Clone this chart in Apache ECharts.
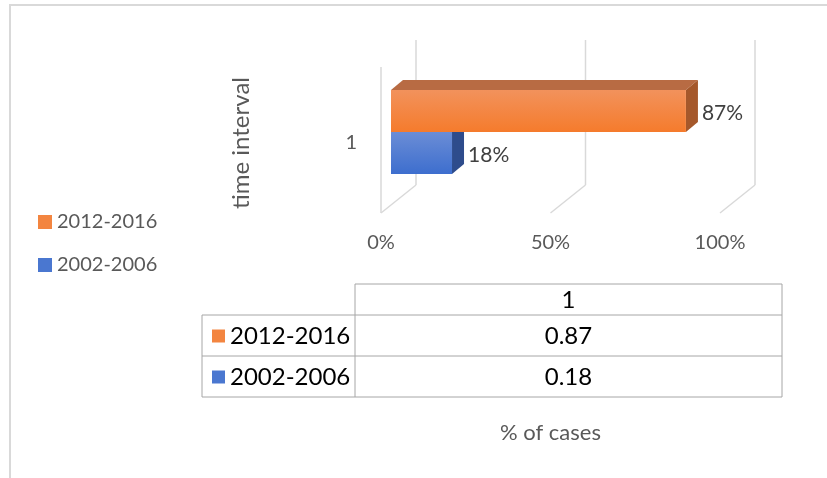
<!DOCTYPE html>
<html><head><meta charset="utf-8">
<script src="https://cdn.jsdelivr.net/npm/echarts@6/dist/echarts.min.js"></script>
<style>html,body{margin:0;padding:0;background:#fff}#c{width:827px;height:478px}</style>
</head><body><div id="c"></div>
<script>
// ---- data ----
const categories = ['1'];
const seriesNames = ['2012-2016', '2002-2006'];
const values2012 = [0.87];
const values2002 = [0.18];
const xTicks = [0, 0.5, 1];
const xTickLabels = ['0%', '50%', '100%'];
const tableHeader = ['1'];

const FONT = 'Lato';
const chart = echarts.init(document.getElementById('c'));

const DX = 12, DY = -10; // bar depth
function barRenderer(offTop, offBot, cFront1, cFront2, cTop, cSide) {
  return function (params, api) {
    const v = api.value(0), cat = api.value(1);
    const p0 = api.coord([0, cat]);
    const p1 = api.coord([v, cat]);
    const band = api.size([0, 1])[1];
    const x0 = p0[0] + 10, x1 = p1[0] + 10;
    const y0 = p0[1] + band * offTop, y1 = p0[1] + band * offBot;
    return {
      type: 'group',
      children: [
        { type: 'polygon', shape: { points: [[x0, y0], [x0 + DX, y0 + DY], [x1 + DX, y0 + DY], [x1, y0]] }, style: { fill: cTop } },
        { type: 'polygon', shape: { points: [[x1, y0], [x1 + DX, y0 + DY], [x1 + DX, y1 + DY], [x1, y1]] }, style: { fill: cSide } },
        { type: 'rect', shape: { x: x0, y: y0, width: x1 - x0, height: y1 - y0 },
          style: { fill: new echarts.graphic.LinearGradient(0, 0, 0, 1, [{ offset: 0, color: cFront1 }, { offset: 1, color: cFront2 }]) } },
        { type: 'text', x: x1 + DX + 4, y: (y0 + y1) / 2 + 2,
          style: { text: Math.round(v * 100) + '%', font: '21px ' + FONT, fill: '#404040', verticalAlign: 'middle', align: 'left' } }
      ]
    };
  };
}

function gridRenderer(params, api) {
  const v = api.value(0);
  const p = api.coord([v, 0]);
  const band = api.size([0, 1])[1];
  const floorY = p[1] + band / 2;
  const fx = p[0];
  const bx = fx + 35, by = floorY - 28;
  const ls = { stroke: '#d9d9d9', lineWidth: 1.5 };
  const ch = [
    { type: 'line', shape: { x1: fx, y1: floorY, x2: bx, y2: by }, style: ls },
    { type: 'line', shape: { x1: bx, y1: by, x2: bx, y2: floorY - 173 }, style: ls }
  ];
  if (v === 0) ch.push({ type: 'line', shape: { x1: fx, y1: floorY, x2: fx, y2: floorY - 146 }, style: ls });
  return { type: 'group', children: ch };
}

// ---- table (built from data) ----
const T = { l: 202, m: 355, r: 782, y: [284, 315, 356, 397] };
const tColor = '#a6a6a6';
const tableEls = [];
function hline(x1, x2, y) { tableEls.push({ type: 'line', shape: { x1, y1: y, x2, y2: y }, style: { stroke: tColor, lineWidth: 1 } }); }
function vline(x, y1, y2) { tableEls.push({ type: 'line', shape: { x1: x, y1, x2: x, y2 }, style: { stroke: tColor, lineWidth: 1 } }); }
hline(T.m, T.r, T.y[0]);
hline(T.l, T.r, T.y[1]);
hline(T.l, T.r, T.y[2]);
hline(T.l, T.r, T.y[3]);
vline(T.l, T.y[1], T.y[3]);
vline(T.m, T.y[0], T.y[3]);
vline(T.r, T.y[0], T.y[3]);
const midX = (T.m + T.r) / 2;
tableEls.push({ type: 'text', x: midX, y: (T.y[0] + T.y[1]) / 2 + 1, style: { text: tableHeader[0], font: '24px ' + FONT, fill: '#000', align: 'center', verticalAlign: 'middle' } });
const rows = [[seriesNames[0], values2012[0], '#F38540'], [seriesNames[1], values2002[0], '#4A77D0']];
rows.forEach((r, i) => {
  const cy = (T.y[i + 1] + T.y[i + 2]) / 2;
  tableEls.push({ type: 'rect', shape: { x: 212, y: cy - 6, width: 13, height: 13 }, style: { fill: r[2] } });
  tableEls.push({ type: 'text', x: 230, y: cy + 1, style: { text: r[0], font: '24px ' + FONT, fill: '#000', align: 'left', verticalAlign: 'middle' } });
  tableEls.push({ type: 'text', x: midX, y: cy + 1, style: { text: String(r[1]), font: '24px ' + FONT, fill: '#000', align: 'center', verticalAlign: 'middle' } });
});
// outer border
tableEls.push({ type: 'line', shape: { x1: 9, y1: 5, x2: 827, y2: 5 }, style: { stroke: '#d9d9d9', lineWidth: 2 } });
tableEls.push({ type: 'line', shape: { x1: 10, y1: 5, x2: 10, y2: 478 }, style: { stroke: '#d9d9d9', lineWidth: 2 } });

chart.setOption({
  animation: false,
  backgroundColor: '#fff',
  grid: { left: 381, right: 107, top: 73, height: 140 },
  xAxis: {
    type: 'value', min: 0, max: 1, interval: 0.5,
    axisLine: { show: false }, axisTick: { show: false }, splitLine: { show: false },
    axisLabel: { margin: 20, color: '#595959', fontFamily: FONT, fontSize: 20,
      formatter: v => xTickLabels[xTicks.indexOf(v)] },
    name: '% of cases', nameLocation: 'middle', nameGap: 209,
    nameTextStyle: { color: '#595959', fontFamily: FONT, fontSize: 22 }
  },
  yAxis: {
    type: 'category', data: categories,
    axisLine: { show: false }, axisTick: { show: false },
    axisLabel: { margin: 24, color: '#595959', fontFamily: FONT, fontSize: 20 },
    name: 'time interval', nameLocation: 'middle', nameGap: 128, nameRotate: 90,
    nameTextStyle: { color: '#595959', fontFamily: FONT, fontSize: 24 }
  },
  legend: {
    orient: 'vertical', left: 38, top: 212, padding: 0, itemWidth: 14, itemHeight: 14, itemGap: 23,
    icon: 'rect', data: seriesNames,
    textStyle: { color: '#595959', fontFamily: FONT, fontSize: 20, padding: [0, 0, 0, 0] }
  },
  series: [
    { type: 'custom', name: 'grid', silent: true, z: 1, renderItem: gridRenderer, data: xTicks.map(v => [v, 0]), encode: { x: 0, y: 1 } },
    { type: 'custom', name: seriesNames[1], z: 2, itemStyle: { color: '#4A77D0' },
      renderItem: barRenderer(-11 / 140, 31 / 140, '#6B8DD6', '#3D6ECE', '#3a5fa8', '#2E4C8C'),
      data: values2002.map((v, i) => [v, i]), encode: { x: 0, y: 1 } },
    { type: 'custom', name: seriesNames[0], z: 3, itemStyle: { color: '#F38540' },
      renderItem: barRenderer(-53 / 140, -11 / 140, '#F2925C', '#F57B2C', '#B86B43', '#A5582B'),
      data: values2012.map((v, i) => [v, i]), encode: { x: 0, y: 1 } }
  ],
  graphic: tableEls
});
</script></body></html>
